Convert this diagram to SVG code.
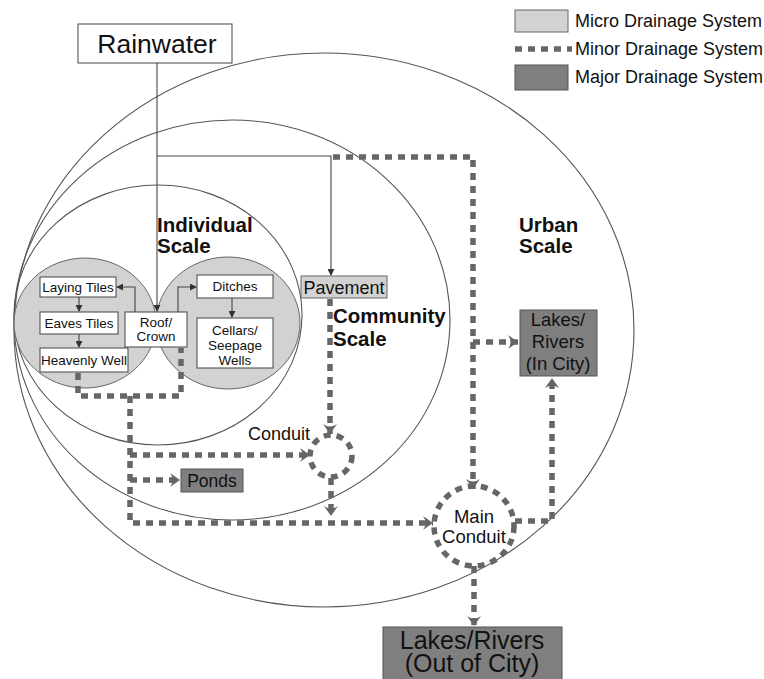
<svg xmlns="http://www.w3.org/2000/svg" width="764" height="679" viewBox="0 0 764 679">
<defs>
<style>
.scale{fill:none;stroke:#555;stroke-width:1.1}
.micro{fill:#d2d2d2;stroke:#666;stroke-width:1}
.box{fill:#fff;stroke:#444;stroke-width:1}
.light{fill:#d2d2d2;stroke:#666;stroke-width:1}
.dark{fill:#7f7f7f;stroke:#555;stroke-width:1}
.thin{fill:none;stroke:#444;stroke-width:1.1}
.dash{fill:none;stroke:#666;stroke-width:5.5;stroke-dasharray:7 6}
.t{font-family:"Liberation Sans",Arial,sans-serif;fill:#111;text-anchor:middle}
.s{font-size:13.5px}
.b{font-family:"Liberation Sans",Arial,sans-serif;font-weight:bold;fill:#111;font-size:20.5px}
.lg{font-family:"Liberation Sans",Arial,sans-serif;fill:#111;font-size:18px}
</style>
<marker id="ah" viewBox="0 0 8 8" refX="7" refY="4" markerWidth="7" markerHeight="7" markerUnits="userSpaceOnUse" orient="auto">
<path d="M0,0 L8,4 L0,8 Z" fill="#333"/>
</marker>
<marker id="ch" viewBox="0 0 12 14" refX="11" refY="7" markerWidth="12" markerHeight="14" markerUnits="userSpaceOnUse" orient="auto">
<path d="M1,0 L11,7 L1,14 Q6,7 1,0 Z" fill="#666"/>
</marker>
</defs>
<rect width="764" height="679" fill="#fff"/>

<g id="urban-scale">
<ellipse class="scale" cx="324" cy="330" rx="310" ry="277"/>
<text class="b" x="519" y="232">Urban</text>
<text class="b" x="519" y="253">Scale</text>
</g>
<g id="community-scale">
<ellipse class="scale" cx="232" cy="320" rx="218" ry="200"/>
<text class="b" x="333" y="323">Community</text>
<text class="b" x="333" y="346">Scale</text>
</g>
<g id="individual-scale">
<ellipse class="scale" cx="158" cy="315" rx="144" ry="130"/>
<text class="b" x="157" y="232">Individual</text>
<text class="b" x="157" y="253">Scale</text>
</g>
<g id="micro-left">
<ellipse class="micro" cx="85" cy="323" rx="71" ry="65"/>
</g>
<g id="micro-right">
<ellipse class="micro" cx="228" cy="323" rx="72" ry="66"/>
</g>

<g id="legend">
<rect class="light" x="515" y="10" width="53" height="22"/>
<text class="lg" x="575" y="27">Micro Drainage System</text>
<path class="dash" d="M515,49 H572"/>
<text class="lg" x="575" y="55">Minor Drainage System</text>
<rect class="dark" x="515" y="65" width="53" height="25"/>
<text class="lg" x="575" y="83">Major Drainage System</text>
</g>

<g id="connectors">
<path class="thin" d="M157,63 V311" marker-end="url(#ah)"/>
<path class="thin" d="M157,156 H331 V275" marker-end="url(#ah)"/>
<path class="thin" d="M135,312 V287 H117" marker-end="url(#ah)"/>
<path class="thin" d="M178,312 V287 H196" marker-end="url(#ah)"/>
<path class="thin" d="M79,297 V311" marker-end="url(#ah)"/>
<path class="thin" d="M79,334 V347" marker-end="url(#ah)"/>
<path class="thin" d="M232,298 V317" marker-end="url(#ah)"/>
<path class="dash" d="M333,157 H473 V489" marker-end="url(#ch)"/>
<path class="dash" d="M473,342 H518" marker-end="url(#ch)"/>
<path class="dash" d="M330,299 V434" marker-end="url(#ch)"/>
<path class="dash" d="M331,478 V516" marker-end="url(#ch)"/>
<path class="dash" d="M78,373 V396 H181 V348"/>
<path class="dash" d="M130,396 V523 H433" marker-end="url(#ch)"/>
<path class="dash" d="M130,455 H310" marker-end="url(#ch)"/>
<path class="dash" d="M130,480 H180" marker-end="url(#ch)"/>
<path class="dash" d="M515,521 H552 V378" marker-end="url(#ch)"/>
<path class="dash" d="M474,566 V626" marker-end="url(#ch)"/>
</g>

<g id="rainwater">
<rect class="box" x="78" y="24" width="154" height="39"/>
<text class="t" x="157" y="53" font-size="26.5">Rainwater</text>
</g>
<g id="laying-tiles">
<rect class="box" x="40" y="277" width="76" height="20"/>
<text class="t s" x="78" y="292">Laying Tiles</text>
</g>
<g id="eaves-tiles">
<rect class="box" x="40" y="312" width="78" height="22"/>
<text class="t s" x="79" y="328">Eaves Tiles</text>
</g>
<g id="heavenly-well">
<rect class="box" x="40" y="348" width="88" height="24"/>
<text class="t s" x="84" y="365">Heavenly Well</text>
</g>
<g id="roof-crown">
<rect class="box" x="125" y="312" width="62" height="35"/>
<text class="t s" x="156" y="327">Roof/</text>
<text class="t s" x="156" y="341">Crown</text>
</g>
<g id="ditches">
<rect class="box" x="197" y="275" width="76" height="23"/>
<text class="t s" x="235" y="291">Ditches</text>
</g>
<g id="cellars">
<rect class="box" x="197" y="318" width="76" height="50"/>
<text class="t s" x="235" y="335">Cellars/</text>
<text class="t s" x="235" y="350">Seepage</text>
<text class="t s" x="235" y="365">Wells</text>
</g>
<g id="pavement">
<rect class="light" x="301" y="276" width="86" height="22"/>
<text class="t" x="344" y="294" font-size="18">Pavement</text>
</g>
<g id="conduit">
<circle cx="331" cy="456" r="21" fill="none" stroke="#666" stroke-width="5.5" stroke-dasharray="7 6"/>
<text class="t" x="279" y="440" font-size="18">Conduit</text>
</g>
<g id="ponds">
<rect class="dark" x="181" y="469" width="62" height="23"/>
<text class="t" x="212" y="487" font-size="17.5">Ponds</text>
</g>
<g id="main-conduit">
<circle cx="474" cy="526" r="40" fill="none" stroke="#666" stroke-width="5.5" stroke-dasharray="7 6"/>
<text class="t" x="474" y="523" font-size="18.5">Main</text>
<text class="t" x="474" y="543" font-size="18.5">Conduit</text>
</g>
<g id="lakes-in-city">
<rect class="dark" x="520" y="310" width="77" height="66"/>
<text class="t" x="558" y="326" font-size="18.5">Lakes/</text>
<text class="t" x="558" y="348" font-size="18.5">Rivers</text>
<text class="t" x="558" y="370" font-size="18.5">(In City)</text>
</g>
<g id="lakes-out-city">
<rect class="dark" x="383" y="627" width="179" height="56"/>
<text class="t" x="472" y="649" font-size="25">Lakes/Rivers</text>
<text class="t" x="472" y="672" font-size="25">(Out of City)</text>
</g>
</svg>
